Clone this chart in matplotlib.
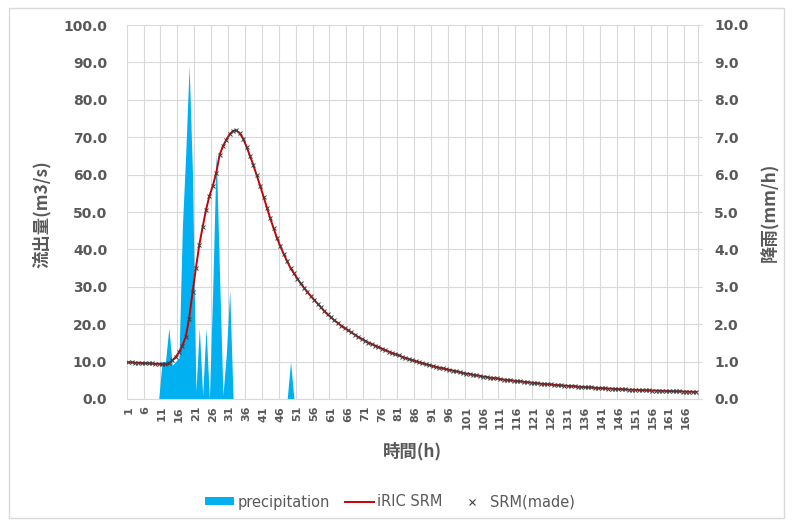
import matplotlib
matplotlib.use("Agg")
import matplotlib.pyplot as plt
from matplotlib.lines import Line2D
from matplotlib.patches import Patch, Rectangle

# ---- data -------------------------------------------------------------
hours = list(range(1, 170))

# rainfall (mm/h), hours 1..169
precipitation = [
    0, 0, 0, 0, 0, 0, 0, 0, 0, 0,                       # 1-10
    1.0, 1.0, 1.9, 0.9, 1.0, 1.1, 4.6, 6.6, 8.9, 6.0,   # 11-20
    0.2, 1.9, 0.1, 1.9, 0.0, 3.0, 6.6, 3.3, 0.1, 1.2,   # 21-30
    2.9, 0, 0, 0, 0, 0, 0, 0, 0, 0,                     # 31-40
    0, 0, 0, 0, 0, 0, 0, 0, 1.0, 0,                     # 41-50
] + [0] * 119                                           # 51-169

# discharge computed by iRIC SRM (m3/s), hours 1..169
iric_srm = [
    9.8, 9.8, 9.7, 9.7, 9.6, 9.6, 9.5, 9.5, 9.4, 9.4,           # 1-10
    9.3, 9.3, 9.5, 10.3, 11.2, 12.5, 14.3, 16.6, 21.5, 28.5,    # 11-20
    35.0, 41.2, 46.0, 50.6, 54.3, 57.0, 60.4, 65.2, 67.6, 69.3, # 21-30
    70.8, 71.7, 71.8, 71.0, 69.6, 67.4, 65.0, 62.5, 59.8, 57.0, # 31-40
    54.1, 51.2, 48.3, 45.6, 43.0, 40.8, 38.7, 36.8, 35.0, 33.6, # 41-50
    32.2, 30.9, 29.7, 28.6, 27.5, 26.5, 25.5, 24.5, 23.5, 22.6, # 51-60
    21.8, 21.0, 20.3, 19.6, 19.0, 18.4, 17.8, 17.2, 16.6, 16.1, # 61-70
    15.6, 15.1, 14.7, 14.3, 13.9, 13.5, 13.1, 12.7, 12.3, 12.0, # 71-80
    11.7, 11.3, 11.0, 10.7, 10.4, 10.1, 9.8, 9.6, 9.3, 9.1,     # 81-90
    8.8, 8.6, 8.4, 8.2, 8.0, 7.8, 7.6, 7.4, 7.2, 7.0,           # 91-100
    6.8, 6.7, 6.5, 6.3, 6.2, 6.0, 5.9, 5.7, 5.6, 5.5,           # 101-110
    5.3, 5.2, 5.1, 5.0, 4.9, 4.8, 4.7, 4.6, 4.5, 4.4,           # 111-120
    4.3, 4.2, 4.1, 4.0, 3.95, 3.9, 3.8, 3.7, 3.65, 3.6,         # 121-130
    3.5, 3.45, 3.4, 3.3, 3.25, 3.2, 3.15, 3.1, 3.0, 2.95,       # 131-140
    2.9, 2.85, 2.8, 2.75, 2.7, 2.65, 2.6, 2.55, 2.5, 2.48,      # 141-150
    2.45, 2.4, 2.37, 2.33, 2.3, 2.27, 2.24, 2.2, 2.17, 2.14,    # 151-160
    2.11, 2.08, 2.05, 2.02, 2.0, 1.97, 1.95, 1.92, 1.9,         # 161-169
]

# hand-made SRM calculation gives the same hydrograph
srm_made = list(iric_srm)

x_tick_hours = list(range(1, 170, 5))
flow_ticks = [0, 10, 20, 30, 40, 50, 60, 70, 80, 90, 100]
rain_ticks = [0, 1, 2, 3, 4, 5, 6, 7, 8, 9, 10]

# ---- styling ----------------------------------------------------------
W_PX, H_PX = 793, 522
TXT = "#595959"
GRID = "#D9D9D9"
BLUE = "#00B0F0"
RED = "#CC0000"
JP = ["Noto Sans CJK JP", "DejaVu Sans"]

fig = plt.figure(figsize=(W_PX / 100, H_PX / 100), dpi=100)

def fx(px):
    return px / W_PX

def fy(py):
    return (H_PX - py) / H_PX

left, right, top, bottom = 126.6, 697.9, 25.0, 399.0
ax1 = fig.add_axes([fx(left), fy(bottom), fx(right - left), (bottom - top) / H_PX])
ax2 = ax1.twinx()

# rainfall on the secondary (right) axis, drawn underneath
ax1.fill_between(hours, precipitation, 0, color=BLUE, linewidth=0, zorder=2)
ax1.set_ylim(0, 10)
ax1.set_xlim(0.5, 169.5)
ax1.yaxis.tick_right()
ax1.yaxis.set_label_position("right")
ax1.set_yticks(rain_ticks)
ax1.set_yticklabels([f"{v:.1f}" for v in rain_ticks])
ax1.tick_params(axis="y", which="both", left=False, right=True, labelleft=False,
                labelright=True, length=3, color=GRID, direction="out", pad=8.6,
                labelsize=10, labelcolor=TXT)
for lab in ax1.get_yticklabels():
    lab.set_fontweight("bold")

ax1.set_xticks(x_tick_hours)
ax1.set_xticklabels([str(h) for h in x_tick_hours], rotation=90, va="top")
ax1.tick_params(axis="x", which="major", length=0, pad=5, labelsize=8,
                labelcolor=TXT)
for lab in ax1.get_xticklabels():
    lab.set_fontweight("bold")
ax1.set_xticks([h + 4.5 for h in x_tick_hours[:-1]], minor=True)
ax1.tick_params(axis="x", which="minor", length=0)

ax1.set_axisbelow(True)
ax1.grid(axis="y", which="major", color=GRID, linewidth=0.8)
ax1.grid(axis="x", which="minor", color=GRID, linewidth=0.8)
ax1.spines["top"].set_visible(False)
for s in ("left", "right", "bottom"):
    ax1.spines[s].set_color(GRID)
    ax1.spines[s].set_linewidth(0.8)

# discharge on the primary (left) axis, drawn on top
ax2.plot(hours, iric_srm, color=RED, linewidth=1.4, zorder=3)
ax2.plot(hours, srm_made, linestyle="none", marker="x", markersize=3.2,
         markeredgewidth=0.7, color="#3F3F3F", zorder=4)
ax2.set_ylim(0, 100)
ax2.yaxis.tick_left()
ax2.yaxis.set_label_position("left")
ax2.set_yticks(flow_ticks)
ax2.set_yticklabels([f"{v:.1f}" for v in flow_ticks])
ax2.tick_params(axis="y", which="both", left=True, right=False, labelleft=True,
                labelright=False, length=0, pad=14, labelsize=10, labelcolor=TXT)
for lab in ax2.get_yticklabels():
    lab.set_fontweight("bold")
for s in ax2.spines.values():
    s.set_visible(False)

# axis titles
fig.text(fx(42), fy(214), "流出量(m3/s)", rotation=90, ha="center", va="center",
         fontsize=12.5, fontweight="bold", color=TXT, family=JP)
fig.text(fx(770), fy(212), "降雨(mm/h)", rotation=90, ha="center", va="center",
         fontsize=12.5, fontweight="bold", color=TXT, family=JP)
fig.text(fx(412), fy(451), "時間(h)", ha="center", va="center",
         fontsize=12.5, fontweight="bold", color=TXT, family=JP)

# legend
handles = [
    Patch(facecolor=BLUE, edgecolor="none"),
    Line2D([], [], color=RED, linewidth=1.4),
    Line2D([], [], linestyle="none", marker="x", markersize=4,
           markeredgewidth=0.8, color="#3F3F3F"),
]
labels = ["precipitation", "iRIC SRM", "SRM(made)"]
leg = fig.legend(handles, labels, loc="center", bbox_to_anchor=(fx(390), fy(502)),
                 ncol=3, frameon=False, fontsize=10.5, handlelength=2.0,
                 handleheight=0.5, handletextpad=0.25, columnspacing=1.0)
for t in leg.get_texts():
    t.set_color(TXT)

# chart border
fig.patches.append(Rectangle((fx(9), fy(518)), fx(775), 510 / H_PX,
                             transform=fig.transFigure, fill=False,
                             edgecolor=GRID, linewidth=1.0))

fig.savefig("out.png", dpi=100)
